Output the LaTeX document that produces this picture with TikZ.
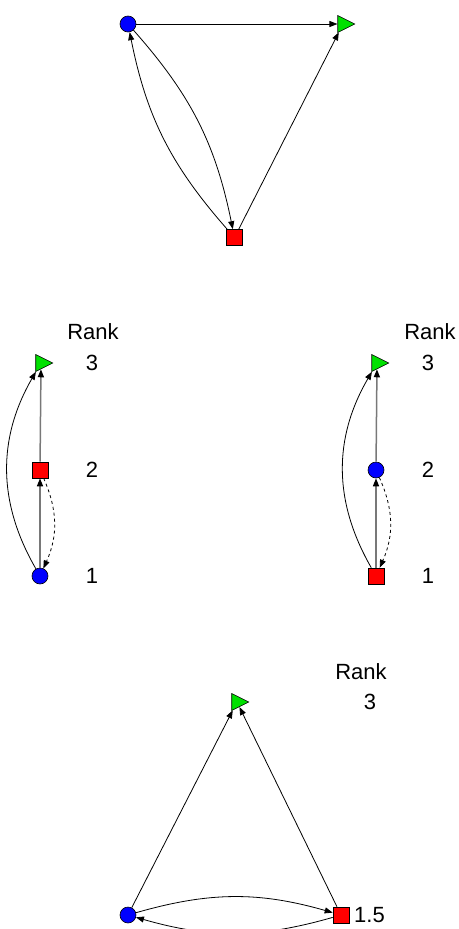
\documentclass[tikz,border=0pt]{standalone}
\usepackage{fontspec}
\setmainfont{Liberation Sans}
\usetikzlibrary{shapes.geometric,arrows.meta}
\definecolor{tgreen}{RGB}{0,225,0}
\definecolor{sred}{RGB}{255,0,0}
\definecolor{cblue}{RGB}{0,0,255}
\definecolor{lgray}{RGB}{120,120,120}
\begin{document}
\begin{tikzpicture}[x=1pt,y=-1pt,
  cnode/.style={circle,draw=black,fill=cblue,minimum size=16pt,inner sep=0pt,line width=0.6pt},
  snode/.style={rectangle,draw=black,fill=sred,minimum size=16pt,inner sep=0pt,line width=0.6pt},
  tnode/.style={isosceles triangle,isosceles triangle stretches,draw=black,fill=tgreen,minimum width=17pt,minimum height=17pt,inner sep=0pt,line width=0.6pt},
  ed/.style={-{Triangle[length=8pt,width=6pt,color=black]},line width=0.8pt,black},
  ged/.style={ed,draw=lgray,line width=1.5pt},
  lab/.style={font=\fontsize{22}{25}\selectfont,inner sep=0pt}]
\useasboundingbox (0,0) rectangle (458,929);
% top graph
\node[cnode] (a1) at (128,24) {};
\node[tnode] (b1) at (343,24) {};
\node[snode] (c1) at (234.5,237.5) {};
\draw[ed] (a1) -- (b1);
\draw[ed] (c1) -- (b1);
\draw[ed] (a1) to[bend left=15] (c1);
\draw[ed] (c1) to[bend left=15] (a1);
% middle left
\node[tnode] (b2) at (41,363) {};
\node[snode] (c2) at (40,470) {};
\node[cnode] (a2) at (40,576) {};
\draw[ged] (a2) -- (c2);
\draw[ged] (c2) -- (b2);
\draw[ed] (a2) to[bend left=30] (b2);
\draw[ed,dashed] (c2) to[bend left=24] (a2);
\node[lab] (r2) at (93,332) {Rank};
\node[lab] (l23) at (92,363) {3};
\node[lab] (l22) at (92,470) {2};
\node[lab] (l21) at (92,576) {1};
% middle right
\node[tnode] (b3) at (377,363) {};
\node[cnode] (a3) at (376,470) {};
\node[snode] (c3) at (376,576) {};
\draw[ged] (c3) -- (a3);
\draw[ged] (a3) -- (b3);
\draw[ed] (c3) to[bend left=30] (b3);
\draw[ed,dashed] (a3) to[bend left=24] (c3);
\node[lab] (r3) at (430,332) {Rank};
\node[lab] (l33) at (428,363) {3};
\node[lab] (l32) at (428,470) {2};
\node[lab] (l31) at (428,576) {1};
% bottom
\node[tnode] (b4) at (237,702) {};
\node[cnode] (a4) at (128,915) {};
\node[snode] (c4) at (341,915) {};
\draw[ed] (a4) -- (b4);
\draw[ed] (c4) -- (b4);
\draw[ed] (a4) to[bend left=16] (c4);
\draw[ed] (c4) to[bend left=16] (a4);
\node[lab] (r4) at (361,672) {Rank};
\node[lab] (l43) at (370,702) {3};
\node[lab,anchor=west] (l4) at (354,915) {1.5};
\end{tikzpicture}
\end{document}
